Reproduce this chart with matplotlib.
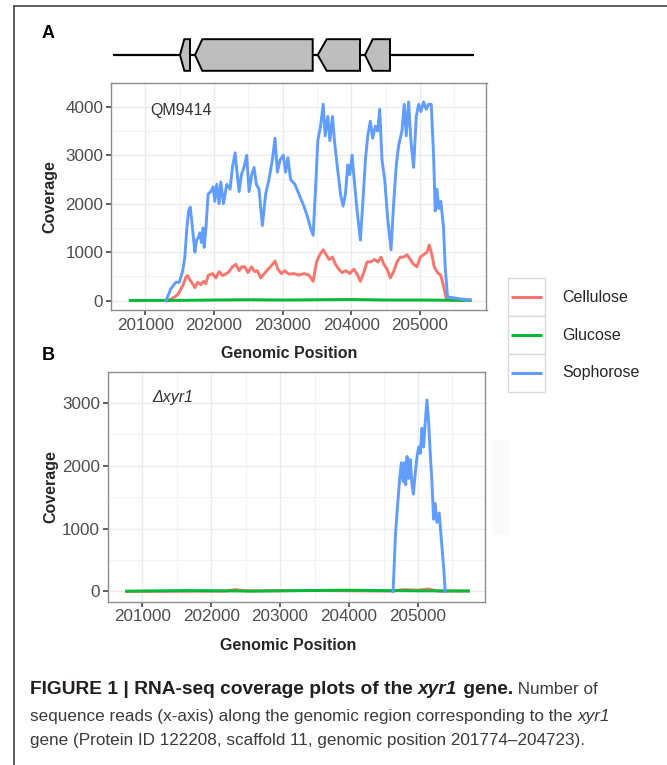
import numpy as np
import matplotlib
matplotlib.use("Agg")
import matplotlib.pyplot as plt
from matplotlib.patches import Polygon, Rectangle
from matplotlib.lines import Line2D
import matplotlib.transforms as mtransforms

plt.rcParams['font.family'] = ['Liberation Sans', 'DejaVu Sans']

W, H = 667, 765

# ---- data ----
series_names = ['Cellulose', 'Glucose', 'Sophorose']
series_colors = ['#F8766D', '#00BA38', '#619CFF']

# panel A: QM9414
a_cell_pos = [201300, 201373, 201470, 201542, 201591, 201615, 201654, 201688, 201722, 201760,
              201809, 201847, 201881, 201915, 201978, 202027, 202075, 202123, 202172, 202220,
              202269, 202317, 202366, 202404, 202448, 202496, 202545, 202593, 202632, 202680,
              202729, 202787, 202835, 202889, 202932, 202981, 203029, 203092, 203165, 203237,
              203310, 203383, 203445, 203494, 203542, 203591, 203634, 203678, 203726, 203770,
              203818, 203867, 203925, 203978, 204036, 204085, 204133, 204182, 204230, 204278,
              204337, 204390, 204434, 204472, 204521, 204569, 204617, 204666, 204714, 204763,
              204811, 204860, 204908, 204956, 205005, 205053, 205102, 205136, 205174, 205208,
              205257, 205305, 205344, 205383, 205441, 205731]
a_cell_cov = [0, 30, 120, 300, 480, 520, 420, 350, 270, 380,
              330, 400, 350, 520, 560, 470, 600, 520, 550, 600,
              700, 750, 620, 700, 700, 580, 700, 600, 620, 470,
              550, 650, 720, 820, 650, 560, 620, 550, 560, 530,
              560, 530, 400, 800, 950, 1050, 950, 850, 900, 750,
              650, 580, 620, 560, 650, 550, 400, 580, 800, 800,
              850, 800, 900, 760, 650, 470, 600, 800, 900, 900,
              950, 850, 750, 700, 900, 950, 1000, 1150, 950, 700,
              580, 520, 300, 50, 10, 10]

a_gluc_pos = [200780, 201500, 202000, 202500, 203000, 203500, 204000, 204500, 205000, 205500, 205731]
a_gluc_cov = [5, 8, 15, 20, 15, 20, 25, 15, 15, 10, 8]

a_soph_pos = [201300, 201373, 201445, 201494, 201542, 201576, 201605, 201630, 201654, 201673,
              201697, 201722, 201746, 201770, 201794, 201818, 201843, 201857, 201881, 201915,
              201954, 201988, 202012, 202041, 202075, 202100, 202138, 202186, 202235, 202269,
              202308, 202332, 202366, 202400, 202438, 202477, 202511, 202550, 202584, 202617,
              202656, 202705, 202753, 202801, 202850, 202889, 202923, 202962, 203010, 203044,
              203077, 203116, 203179, 203237, 203310, 203358, 203407, 203445, 203479, 203513,
              203552, 203591, 203620, 203659, 203688, 203726, 203755, 203794, 203843, 203881,
              203915, 203949, 203978, 204012, 204036, 204075, 204109, 204133, 204167, 204206,
              204240, 204278, 204312, 204351, 204385, 204414, 204448, 204487, 204530, 204579,
              204617, 204656, 204690, 204738, 204772, 204801, 204835, 204869, 204908, 204947,
              204981, 205015, 205053, 205092, 205126, 205165, 205199, 205223, 205247, 205276,
              205305, 205344, 205368, 205402, 205489, 205634, 205731]
a_soph_cov = [0, 250, 380, 380, 600, 900, 1500, 1850, 1930, 1700,
              1350, 1000, 1250, 1300, 1400, 1200, 1500, 1100, 1450, 2200,
              2250, 2350, 2050, 2400, 2000, 2450, 2000, 2400, 2300, 2750,
              3050, 2700, 2250, 2600, 2750, 3000, 2250, 2600, 2750, 2400,
              2300, 1550, 2200, 2500, 2900, 3350, 2650, 2900, 3000, 2650,
              2950, 2500, 2400, 2200, 1950, 1750, 1500, 1350, 2300, 3300,
              3600, 4050, 3400, 3800, 3300, 3800, 3300, 2800, 2200, 1950,
              2200, 2800, 2600, 3000, 2600, 2000, 1550, 1250, 2000, 2900,
              3400, 3700, 3350, 3600, 3500, 3950, 2900, 2500, 1700, 1050,
              2000, 2800, 3200, 3500, 4050, 3400, 4100, 3300, 2750, 3800,
              4050, 3900, 4100, 3950, 4050, 4050, 3000, 1850, 2300, 1900,
              2050, 1500, 700, 80, 60, 30, 20]

# panel B: delta xyr1
b_cell_pos = [200774, 202200, 202350, 202500, 203500, 204600, 204800, 205000, 205150, 205300, 205732]
b_cell_cov = [0, 5, 30, 10, 15, 5, 30, 20, 40, 5, 5]

b_gluc_pos = [200774, 201700, 202600, 203900, 205000, 205732]
b_gluc_cov = [5, 15, 5, 20, 10, 8]

b_soph_pos = [204639, 204673, 204706, 204735, 204759, 204784, 204803, 204822, 204841, 204865,
              204889, 204913, 204933, 204962, 204986, 205010, 205034, 205058, 205082, 205106,
              205130, 205154, 205178, 205202, 205226, 205250, 205274, 205308, 205337, 205371,
              205395]
b_soph_cov = [0, 900, 1400, 1800, 2050, 1750, 2050, 1700, 2150, 1800,
              2100, 1700, 1550, 1900, 2150, 2300, 2200, 2600, 2300, 2700,
              3050, 2700, 2200, 1750, 1150, 1400, 1100, 1250, 850, 400,
              0]

x_ticks = [201000, 202000, 203000, 204000, 205000]
a_yticks = [0, 1000, 2000, 3000, 4000]
b_yticks = [0, 1000, 2000, 3000]

# gene model (schematic units along the drawn track; arrows point left)
track_length = 361
gene_tips = [67, 82, 204.7, 252]
gene_starts = [71.3, 89.3, 213.7, 259.7]
gene_ends = [77, 199.7, 247, 277]

caption_lines = [
    [("FIGURE 1 | RNA-seq coverage plots of the ", 'bold', 'normal'),
     ("xyr1", 'bold', 'italic'),
     (" gene.", 'bold', 'normal'),
     (" Number of", 'normal', 'normal')],
    [("sequence reads (x-axis) along the genomic region corresponding to the ", 'normal', 'normal'),
     ("xyr1", 'normal', 'italic')],
    [("gene (Protein ID 122208, scaffold 11, genomic position 201774\u2013204723).", 'normal', 'normal')],
]


def px_axes(fig, l, t, r, b):
    return fig.add_axes([l / W, 1 - b / H, (r - l) / W, (b - t) / H])


def style_panel(ax, xlim, ylim, yticks):
    ax.set_xlim(*xlim)
    ax.set_ylim(*ylim)
    ax.set_xticks(x_ticks)
    ax.set_xticks([200500 + 1000 * i for i in range(6)], minor=True)
    ax.set_yticks(yticks)
    ax.set_yticks([500 + 1000 * i for i in range(len(yticks))], minor=True)
    ax.grid(which='major', color='#ebebeb', lw=1.0)
    ax.grid(which='minor', color='#f2f2f2', lw=0.7)
    ax.set_axisbelow(True)
    for s in ax.spines.values():
        s.set_color('#8c8c8c')
        s.set_linewidth(1.0)
    ax.tick_params(which='major', length=3.5, width=1.1, color='#333333',
                   labelsize=12.3, labelcolor='#4d4d4d', pad=2)
    ax.tick_params(which='minor', length=0)
    ax.set_xlabel('Genomic Position', fontsize=11.5, fontweight='bold', color='#262626', va='center')
    ax.set_ylabel('Coverage', fontsize=11.5, fontweight='bold', color='#262626', va='center')


fig = plt.figure(figsize=(W / 100, H / 100), dpi=100)

# outer frame (top and left edges only)
fig.add_artist(Line2D([14 / W, 1], [1 - 6 / H, 1 - 6 / H], color='#444444', lw=1.2, transform=fig.transFigure))
fig.add_artist(Line2D([14 / W, 14 / W], [1 - 6 / H, 0], color='#444444', lw=1.2, transform=fig.transFigure))

# faint leftover box right of panel B
fig.add_artist(Rectangle((492 / W, 1 - 535 / H), 18 / W, 95 / H, facecolor='#fafafa',
                         edgecolor='none', transform=fig.transFigure, zorder=0))

# gene model track
axg = px_axes(fig, 113, 36, 474, 74)
axg.set_xlim(0, track_length)
axg.set_ylim(-19, 19)
axg.axis('off')
axg.plot([0, track_length], [0, 0], color='black', lw=1.6, zorder=1)
for tip, st, en in zip(gene_tips, gene_starts, gene_ends):
    half = 15.8
    poly = Polygon([(tip, 0), (st, half), (en, half), (en, -half), (st, -half)],
                   closed=True, facecolor='#bebebe', edgecolor='black', lw=1.4, zorder=2)
    axg.add_patch(poly)

# panel A
axA = px_axes(fig, 111, 82.5, 486.5, 310)
for pos, cov, c in [(a_cell_pos, a_cell_cov, series_colors[0]),
                    (a_gluc_pos, a_gluc_cov, series_colors[1]),
                    (a_soph_pos, a_soph_cov, series_colors[2])]:
    axA.plot(pos, cov, color=c, lw=2.1, solid_joinstyle='round')
style_panel(axA, (200516, 205970), (-191, 4292), a_yticks)
axA.xaxis.set_label_coords((289 - 111) / 375.5, (310 - 353) / 227.5)
axA.yaxis.set_label_coords((50 - 111) / 375.5, 0.5)
axA.text(0.104, 0.879, 'QM9414', transform=axA.transAxes, fontsize=11.5, color='#333333',
         va='center', ha='left')

# panel B
axB = px_axes(fig, 107.7, 371.7, 485, 601.7)
for pos, cov, c in [(b_cell_pos, b_cell_cov, series_colors[0]),
                    (b_gluc_pos, b_gluc_cov, series_colors[1]),
                    (b_soph_pos, b_soph_cov, series_colors[2])]:
    axB.plot(pos, cov, color=c, lw=2.1, solid_joinstyle='round')
style_panel(axB, (200523, 205972), (-163, 3246), b_yticks)
axB.xaxis.set_label_coords((288.5 - 107.7) / 377.3, (601.7 - 646) / 230)
axB.yaxis.set_label_coords((50.7 - 107.7) / 377.3, 0.5)
axB.text(0.119, 0.886, '\u0394xyr1', transform=axB.transAxes, fontsize=11.5, color='#333333',
         style='italic', va='center', ha='left')

# panel letters
fig.text(48 / W, 1 - 33 / H, 'A', fontsize=13, fontweight='bold', ha='center', va='center')
fig.text(48 / W, 1 - 355 / H, 'B', fontsize=13, fontweight='bold', ha='center', va='center')

# legend with boxed keys (ggplot theme_bw style)
axL = px_axes(fig, 507.7, 278.3, 545, 391.7)
axL.set_xlim(0, 1)
axL.set_ylim(len(series_names), 0)
axL.axis('off')
for i, (name, c) in enumerate(zip(series_names, series_colors)):
    axL.add_patch(Rectangle((0, i), 1, 1, facecolor='white', edgecolor='#d9d9d9', lw=1.0, clip_on=False))
    axL.plot([0.09, 0.93], [i + 0.5, i + 0.5], color=c, lw=2.2, solid_capstyle='butt')
    axL.text(1.45, i + 0.5, name, fontsize=11.5, color='#262626', va='center', ha='left')

# caption with mixed styles
fig.canvas.draw()
renderer = fig.canvas.get_renderer()
ident = mtransforms.IdentityTransform()
caption_y = [690, 716, 741]
for parts, yy in zip(caption_lines, caption_y):
    x = 30
    for txt, weight, style in parts:
        size = 13.8 if weight == 'bold' else 12.3
        col = '#231f20' if weight == 'bold' else '#3a3a3a'
        t = fig.text(x, H - yy, txt, transform=ident, fontsize=size, fontweight=weight,
                     style=style, color=col, va='center', ha='left')
        x += t.get_window_extent(renderer).width

fig.savefig('out.png', dpi=100)
